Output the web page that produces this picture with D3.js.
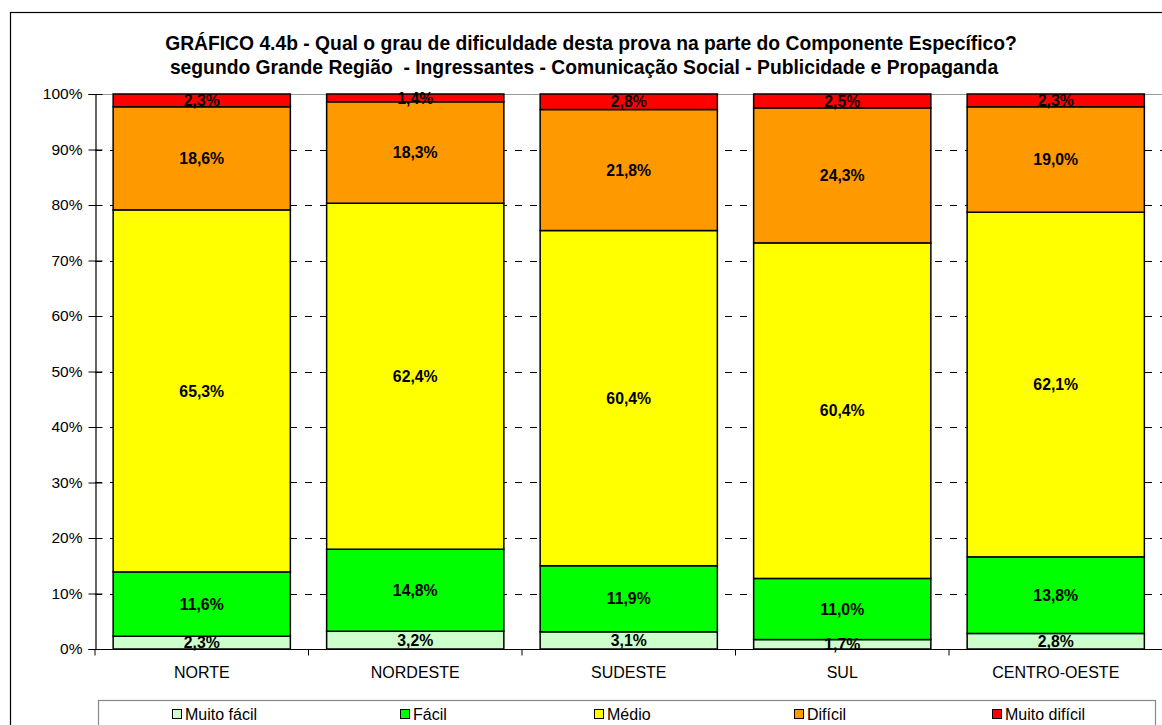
<!DOCTYPE html>
<html>
<head>
<meta charset="utf-8">
<script src="https://cdn.jsdelivr.net/npm/d3@7"></script>
<style>
  html, body { margin: 0; padding: 0; background: #fff; }
  svg { display: block; font-family: "Liberation Sans", Arial, sans-serif; }
</style>
</head>
<body>
<svg id="chart" width="1162" height="725"></svg>
<script>
// Regions (x axis)
const regions = ["NORTE", "NORDESTE", "SUDESTE", "SUL", "CENTRO-OESTE"];

// Difficulty levels, bottom to top
const levels = ["Muito fácil", "Fácil", "Médio", "Difícil", "Muito difícil"];
const levelColors = ["#CCFFCC", "#00FF00", "#FFFF00", "#FF9900", "#FF0000"];

// Percentages per level, one value per region
const muitoFacil   = [2.3, 3.2, 3.1, 1.7, 2.8];
const facil        = [11.6, 14.8, 11.9, 11.0, 13.8];
const medio        = [65.3, 62.4, 60.4, 60.4, 62.1];
const dificil      = [18.6, 18.3, 21.8, 24.3, 19.0];
const muitoDificil = [2.3, 1.4, 2.8, 2.5, 2.3];

const yTicks = [0, 10, 20, 30, 40, 50, 60, 70, 80, 90, 100];

const titleLines = [
  "GRÁFICO 4.4b - Qual o grau de dificuldade desta prova na parte do Componente Específico?",
  "segundo Grande Região  - Ingressantes - Comunicação Social - Publicidade e Propaganda"
];

const seriesValues = [muitoFacil, facil, medio, dificil, muitoDificil];
const rows = regions.map((r, i) => {
  const row = { region: r };
  levels.forEach((l, j) => { row[l] = seriesValues[j][i]; });
  return row;
});

const svg = d3.select("#chart");

// outer frame
svg.append("rect")
  .attr("x", 10.5).attr("y", 12.5)
  .attr("width", 1170).attr("height", 730)
  .attr("fill", "none").attr("stroke", "#000").attr("stroke-width", 1.2);

// title
const title = svg.append("text")
  .attr("text-anchor", "middle")
  .attr("font-weight", "bold")
  .attr("font-size", 19.3)
  .attr("fill", "#000")
  .style("white-space", "pre");
title.append("tspan").attr("x", 591).attr("y", 50).text(titleLines[0]);
title.append("tspan").attr("x", 584).attr("y", 73.5).text(titleLines[1]);

const plot = { left: 95, right: 1162.5, top: 94, bottom: 649 };

const x = d3.scaleBand()
  .domain(regions)
  .range([plot.left, plot.right])
  .paddingInner(0.17)
  .paddingOuter(0.085);

const y = d3.scaleLinear().domain([0, 100]).range([plot.bottom, plot.top]);

// dashed gridlines
svg.append("g")
  .selectAll("line")
  .data(yTicks.filter(t => t > 0 && t < 100))
  .join("line")
  .attr("x1", plot.left).attr("x2", plot.right)
  .attr("y1", d => Math.round(y(d)) + 0.5).attr("y2", d => Math.round(y(d)) + 0.5)
  .attr("stroke", "#000").attr("stroke-width", 1)
  .attr("stroke-dasharray", "7,8");

// plot area top border
svg.append("line")
  .attr("x1", plot.left).attr("x2", plot.right)
  .attr("y1", plot.top + 0.5).attr("y2", plot.top + 0.5)
  .attr("stroke", "#999").attr("stroke-width", 1.2);

// 100% stacked bars
const stack = d3.stack().keys(levels).offset(d3.stackOffsetExpand);
const stacked = stack(rows);

const layers = svg.append("g")
  .selectAll("g")
  .data(stacked)
  .join("g")
  .attr("fill", (d, i) => levelColors[i]);

layers.selectAll("rect")
  .data(d => d)
  .join("rect")
  .attr("x", d => x(d.data.region))
  .attr("width", x.bandwidth())
  .attr("y", d => y(d[1] * 100))
  .attr("height", d => y(d[0] * 100) - y(d[1] * 100))
  .attr("stroke", "#000")
  .attr("stroke-width", 1.5);

// value labels
stacked.forEach(layer => {
  svg.append("g")
    .selectAll("text")
    .data(layer)
    .join("text")
    .attr("x", d => x(d.data.region) + x.bandwidth() / 2)
    .attr("y", d => (y(d[0] * 100) + y(d[1] * 100)) / 2)
    .attr("dy", "0.36em")
    .attr("text-anchor", "middle")
    .attr("font-weight", "bold")
    .attr("font-size", 15.8)
    .attr("fill", "#000")
    .text(d => d3.format(".1f")(d.data[layer.key]).replace(".", ",") + "%");
});

// y axis
const yAxis = d3.axisLeft(y)
  .tickValues(yTicks)
  .tickSize(7)
  .tickPadding(6)
  .tickFormat(d => d + "%");
const gy = svg.append("g")
  .attr("transform", `translate(${plot.left + 0.5},0)`)
  .call(yAxis);
gy.select(".domain").attr("stroke", "#000").attr("stroke-width", 1.2);
gy.selectAll(".tick line").attr("stroke", "#000").attr("x1", 7);
gy.selectAll(".tick text").attr("font-size", 15.5).attr("fill", "#000")
  .attr("font-family", "Liberation Sans, Arial, sans-serif");

// x axis
const xAxis = d3.axisBottom(x).tickSize(0).tickPadding(17);
const gx = svg.append("g")
  .attr("transform", `translate(0,${plot.bottom + 0.5})`)
  .call(xAxis);
gx.select(".domain").remove();
gx.append("line")
  .attr("x1", plot.left).attr("x2", plot.right)
  .attr("stroke", "#000").attr("stroke-width", 1.2);
gx.selectAll(".tick text").attr("font-size", 16).attr("fill", "#000")
  .attr("font-family", "Liberation Sans, Arial, sans-serif");

// category separators below the axis
gx.append("g")
  .selectAll("line")
  .data(d3.range(regions.length + 1))
  .join("line")
  .attr("x1", i => plot.left + i * (plot.right - plot.left) / regions.length)
  .attr("x2", i => plot.left + i * (plot.right - plot.left) / regions.length)
  .attr("y1", 0).attr("y2", 6)
  .attr("stroke", "#000");

// legend
svg.append("rect")
  .attr("x", 98.5).attr("y", 700.5)
  .attr("width", 1057).attr("height", 40)
  .attr("fill", "#fff").attr("stroke", "#888").attr("stroke-width", 1.2);

const legendX = [172, 400, 594, 794, 992];
const legend = svg.append("g")
  .selectAll("g")
  .data(levels)
  .join("g")
  .attr("transform", (d, i) => `translate(${legendX[i]},714)`);
legend.append("rect")
  .attr("x", 0.5).attr("y", -4.5)
  .attr("width", 9).attr("height", 9)
  .attr("fill", (d, i) => levelColors[i])
  .attr("stroke", "#000").attr("stroke-width", 1);
legend.append("text")
  .attr("x", 13).attr("y", 0)
  .attr("dy", "0.36em")
  .attr("font-size", 16)
  .attr("fill", "#000")
  .text(d => d);
</script>
</body>
</html>
